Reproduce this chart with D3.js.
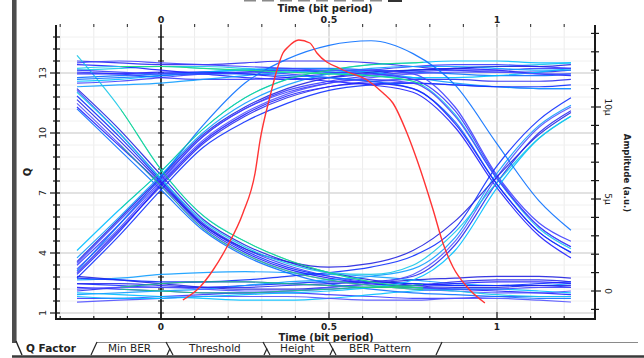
<!DOCTYPE html>
<html>
<head>
<meta charset="utf-8">
<script src="https://cdn.jsdelivr.net/npm/d3@7"></script>
<style>
  body { margin: 0; background: #fff; }
  svg { display: block; }
  text { font-family: "DejaVu Sans", Verdana, sans-serif; fill: #222; }
</style>
</head>
<body>
<svg id="chart" width="644" height="358"></svg>
<script>
// sample instants of every eye trace (bit periods)
const sampleTimes = [-0.25, -0.125, 0, 0.125, 0.25, 0.375, 0.5, 0.625, 0.75, 0.875, 1, 1.125, 1.22];

// amplitudes (micro a.u.), grouped by bit pattern
const highHigh = [
  [12.0, 12.1, 12.2, 12.2, 12.1, 12.0, 11.9, 11.9, 12.0, 12.1, 12.2, 12.3, 12.4],
  [11.6, 11.7, 11.8, 11.9, 12.0, 12.1, 12.1, 12.0, 11.9, 11.8, 11.7, 11.7, 11.8],
  [11.3, 11.4, 11.6, 11.8, 11.9, 11.8, 11.6, 11.4, 11.3, 11.2, 11.1, 11.0, 11.0],
  [12.3, 12.2, 12.0, 11.8, 11.6, 11.5, 11.6, 11.8, 12.0, 12.1, 12.0, 11.8, 11.7],
  [11.9, 11.8, 11.6, 11.5, 11.5, 11.6, 11.8, 12.0, 12.2, 12.3, 12.3, 12.2, 12.1],
  [11.1, 11.2, 11.3, 11.5, 11.7, 11.9, 12.0, 11.9, 11.6, 11.3, 11.1, 11.0, 11.0],
  [12.5, 12.4, 12.3, 12.3, 12.4, 12.5, 12.5, 12.4, 12.2, 12.0, 11.9, 11.9, 12.0],
  [11.4, 11.5, 11.7, 11.9, 12.0, 12.0, 11.9, 11.7, 11.6, 11.6, 11.7, 11.9, 12.1]
];
const lowLow = [
  [0.2, 0.1, 0.0, -0.1, -0.1, 0.0, 0.1, 0.2, 0.2, 0.1, 0.0, -0.1, -0.2],
  [-0.4, -0.4, -0.3, -0.2, -0.1, -0.1, -0.2, -0.3, -0.4, -0.4, -0.3, -0.3, -0.3],
  [0.6, 0.7, 0.9, 1.0, 1.05, 1.0, 0.9, 0.8, 0.6, 0.4, 0.3, 0.3, 0.4],
  [0.0, 0.2, 0.4, 0.5, 0.5, 0.4, 0.3, 0.2, 0.3, 0.5, 0.6, 0.6, 0.5],
  [-0.1, -0.2, -0.3, -0.4, -0.5, -0.5, -0.4, -0.2, 0.0, 0.1, 0.1, 0.0, -0.1],
  [0.4, 0.3, 0.2, 0.2, 0.3, 0.4, 0.5, 0.5, 0.4, 0.3, 0.3, 0.4, 0.5],
  [-0.6, -0.5, -0.4, -0.3, -0.3, -0.3, -0.4, -0.5, -0.5, -0.4, -0.4, -0.5, -0.6],
  [0.8, 0.6, 0.4, 0.2, 0.1, 0.1, 0.2, 0.4, 0.6, 0.7, 0.8, 0.8, 0.7]
];
const fallThenLow = [
  [10.6, 8.4, 6.0, 3.6, 2.2, 1.3, 0.8, 0.5, 0.4, 0.3, 0.3, 0.3, 0.2],
  [10.2, 8.0, 5.7, 3.4, 2.0, 1.1, 0.6, 0.3, 0.1, 0.0, -0.1, -0.1, 0.0],
  [11.0, 8.8, 6.3, 3.9, 2.5, 1.6, 1.0, 0.6, 0.3, 0.2, 0.2, 0.3, 0.3],
  [12.8, 10.0, 6.6, 4.1, 2.7, 1.7, 1.0, 0.5, 0.2, 0.0, -0.2, -0.3, -0.3],
  [9.9, 7.7, 5.5, 3.3, 1.9, 1.0, 0.4, 0.1, -0.1, -0.2, -0.3, -0.4, -0.4],
  [10.9, 8.6, 6.1, 3.7, 2.3, 1.4, 0.8, 0.4, 0.2, 0.1, 0.1, 0.2, 0.2],
  [10.0, 7.9, 5.8, 3.5, 2.1, 1.2, 0.7, 0.4, 0.3, 0.4, 0.5, 0.5, 0.4]
];
const fallThenRise = [
  [10.4, 8.2, 5.9, 3.6, 2.3, 1.6, 1.3, 1.5, 2.2, 3.8, 6.2, 8.5, 9.7],
  [10.8, 8.6, 6.1, 3.8, 2.4, 1.5, 1.0, 0.9, 1.4, 3.2, 5.9, 8.3, 9.5]
];
const riseThenHigh = [
  [1.4, 3.6, 6.0, 8.4, 9.9, 10.9, 11.4, 11.7, 11.9, 12.0, 12.0, 12.1, 12.1],
  [1.8, 4.0, 6.3, 8.6, 10.2, 11.2, 11.8, 12.1, 12.2, 12.2, 12.1, 12.0, 12.0],
  [1.0, 3.3, 5.7, 8.0, 9.5, 10.5, 11.1, 11.4, 11.5, 11.5, 11.4, 11.4, 11.5],
  [2.2, 4.4, 6.5, 8.8, 10.5, 11.5, 12.0, 12.3, 12.4, 12.5, 12.5, 12.4, 12.4],
  [0.7, 3.0, 5.5, 7.8, 9.2, 10.2, 10.9, 11.2, 11.3, 11.2, 11.1, 11.1, 11.2],
  [1.2, 3.4, 5.9, 8.2, 9.7, 10.7, 11.3, 11.6, 11.8, 11.9, 11.9, 11.8, 11.8],
  [1.6, 3.9, 6.2, 8.5, 10.0, 11.0, 11.6, 11.9, 12.0, 12.1, 12.2, 12.2, 12.3]
];
const riseThenFall = [
  [1.1, 3.6, 6.2, 9.0, 11.3, 12.6, 13.35, 13.6, 12.9, 11.2, 8.0, 4.9, 3.3],
  [1.5, 3.8, 6.1, 8.4, 9.9, 10.8, 11.3, 11.5, 11.3, 9.5, 6.1, 3.5, 2.4],
  [0.9, 3.2, 5.8, 8.1, 9.6, 10.6, 11.1, 11.3, 11.0, 9.1, 5.8, 3.2, 2.1]
];
const highThenFall = [
  [12.1, 12.2, 12.2, 12.1, 12.0, 11.9, 11.8, 11.7, 11.4, 9.6, 6.1, 3.4, 2.3],
  [11.5, 11.6, 11.7, 11.8, 11.8, 11.7, 11.6, 11.4, 11.0, 9.2, 5.8, 3.2, 2.1],
  [12.4, 12.5, 12.4, 12.3, 12.2, 12.1, 12.0, 12.0, 11.8, 10.0, 6.3, 3.7, 2.7],
  [11.8, 11.8, 11.9, 11.9, 11.8, 11.6, 11.4, 11.2, 10.8, 8.9, 5.6, 3.0, 1.8],
  [12.0, 11.9, 11.8, 11.8, 11.9, 12.0, 11.9, 11.8, 11.5, 9.8, 6.2, 3.5, 2.4]
];
const lowThenRise = [
  [-0.2, -0.1, 0.0, 0.1, 0.3, 0.5, 0.6, 0.8, 1.2, 2.9, 6.4, 9.0, 10.1],
  [0.4, 0.4, 0.3, 0.2, 0.2, 0.3, 0.4, 0.5, 0.8, 2.5, 5.9, 8.6, 9.8],
  [-0.3, -0.4, -0.4, -0.3, -0.2, -0.1, 0.0, 0.2, 0.6, 2.2, 5.6, 8.3, 9.5],
  [0.7, 0.6, 0.5, 0.5, 0.6, 0.8, 1.0, 1.3, 1.9, 3.4, 6.8, 9.3, 10.5],
  [0.1, 0.2, 0.2, 0.1, 0.0, 0.0, 0.2, 0.4, 0.9, 2.7, 6.2, 8.9, 10.0]
];

// Q factor against decision instant (red curve)
const qTime  = [0.065, 0.116, 0.155, 0.196, 0.244, 0.280, 0.295, 0.324, 0.345, 0.363, 0.378, 0.41, 0.443, 0.464, 0.542, 0.613, 0.661, 0.69, 0.732, 0.762, 0.81, 0.839, 0.869, 0.911, 0.964];
const qValue = [1.65, 2.3, 3.15, 4.3, 6.0, 8.0, 9.65, 11.8, 13.15, 14.0, 14.3, 14.65, 14.5, 14.0, 13.15, 12.65, 12.0, 11.5, 10.0, 8.65, 6.15, 4.5, 3.3, 2.3, 1.5];

// tick labels
const timeTickLabels = [0, 0.5, 1];
const qTickLabels = [1, 4, 7, 10, 13];
const ampTickLabels = [0, 5, 10];
const tabNames = ["Q Factor", "Min BER", "Threshold", "Height", "BER Pattern"];

const svg = d3.select("#chart");
const plot = { left: 56, right: 595, top: 27, bottom: 319 };

const x = d3.scaleLinear().domain([0, 1]).range([161, 497]);
const q = d3.scaleLinear().domain([1, 13]).range([313, 73]);
const amp = d3.scaleLinear().domain([0, 10]).range([291, 107]);

const timeMinor = d3.range(-3, 13).map(i => i / 10);
const qMinor = d3.range(0, 25).map(i => +(1 + i * 0.6).toFixed(1)).filter(v => q(v) >= plot.top - 1);
const ampMinor = d3.range(-1, 15);

// grid
const grid = svg.append("g");
grid.selectAll(".vg").data(timeMinor).enter().append("line")
  .attr("x1", d => x(d)).attr("x2", d => x(d))
  .attr("y1", plot.top).attr("y2", plot.bottom)
  .attr("stroke", d => (d === 0.5 || d === 1) ? "#d6d6d6" : "#ececec")
  .attr("stroke-width", d => (d === 0.5 || d === 1) ? 1.5 : 1);
grid.selectAll(".hg").data(qMinor).enter().append("line")
  .attr("x1", plot.left).attr("x2", plot.right)
  .attr("y1", d => q(d)).attr("y2", d => q(d))
  .attr("stroke", d => qTickLabels.includes(d) ? "#d9d9d9" : "#f0f0f0")
  .attr("stroke-width", d => qTickLabels.includes(d) ? 1.5 : 1);

// axis at t = 0
const zeroAxis = svg.append("g");
zeroAxis.append("line")
  .attr("x1", x(0)).attr("x2", x(0)).attr("y1", plot.top - 2).attr("y2", plot.bottom)
  .attr("stroke", "#111").attr("stroke-width", 1.6);
zeroAxis.selectAll(".zt").data(qMinor).enter().append("line")
  .attr("x1", x(0) - 3).attr("x2", x(0) + 3)
  .attr("y1", d => q(d)).attr("y2", d => q(d))
  .attr("stroke", "#111").attr("stroke-width", 1);

// eye traces
const defs = svg.append("defs");
defs.append("clipPath").attr("id", "clip").append("rect")
  .attr("x", plot.left).attr("y", plot.top)
  .attr("width", plot.right - plot.left).attr("height", plot.bottom - plot.top);
defs.append("clipPath").attr("id", "clipDense").append("rect")
  .attr("x", x(-0.12)).attr("y", plot.top)
  .attr("width", x(0.78) - x(-0.12)).attr("height", plot.bottom - plot.top);

const traces = [].concat(lowLow, highHigh, fallThenLow, riseThenHigh, highThenFall, lowThenRise, fallThenRise, riseThenFall);
const palette = ["#1f1fff", "#3a3aff", "#0f9dff", "#2b2bf0", "#00bfff", "#1030ff", "#5252ff", "#2424e0", "#18c8e8", "#0a70ff", "#4040ff"];

const traceLine = d3.line()
  .x((d, i) => x(sampleTimes[i]))
  .y(d => amp(d))
  .curve(d3.curveMonotoneX);

svg.append("g").attr("clip-path", "url(#clip)")
  .selectAll("path").data(traces).enter().append("path")
  .attr("d", traceLine)
  .attr("fill", "none")
  .attr("stroke", (d, i) => palette[i % palette.length])
  .attr("stroke-width", 1.2)
  .attr("stroke-opacity", 0.9);

// green where traces pile up most
const highlightIdx = [0, 3, 17, 19, 26, 30];
svg.append("g").attr("clip-path", "url(#clipDense)")
  .selectAll("path").data(highlightIdx.map(i => traces[i])).enter().append("path")
  .attr("d", traceLine)
  .attr("fill", "none")
  .attr("stroke", "#1ee06a")
  .attr("stroke-width", 1)
  .attr("stroke-opacity", 0.8);

// Q factor curve
const qLine = d3.line()
  .x((d, i) => x(qTime[i]))
  .y(d => q(d))
  .curve(d3.curveMonotoneX);
svg.append("path").datum(qValue)
  .attr("d", qLine)
  .attr("fill", "none")
  .attr("stroke", "#ff3434")
  .attr("stroke-width", 1.4);

// left (Q) axis
const leftAxis = svg.append("g");
leftAxis.append("line")
  .attr("x1", plot.left).attr("x2", plot.left).attr("y1", plot.top - 2).attr("y2", plot.bottom + 1)
  .attr("stroke", "#1a1a1a").attr("stroke-width", 2);
leftAxis.selectAll(".lt").data(qMinor).enter().append("line")
  .attr("x1", d => qTickLabels.includes(d) ? plot.left - 6 : plot.left - 3)
  .attr("x2", plot.left + 4)
  .attr("y1", d => q(d)).attr("y2", d => q(d))
  .attr("stroke", "#1a1a1a").attr("stroke-width", 1.2);
leftAxis.selectAll(".ll").data(qTickLabels).enter().append("text")
  .attr("transform", d => `translate(46,${q(d)}) rotate(-90)`)
  .attr("text-anchor", "middle")
  .attr("font-size", 9.5)
  .text(d => d);
svg.append("text")
  .attr("transform", "translate(31,172) rotate(-90)")
  .attr("text-anchor", "middle")
  .attr("font-size", 10).attr("font-weight", "bold")
  .text("Q");

// right (amplitude) axis
const rightAxis = svg.append("g");
rightAxis.append("line")
  .attr("x1", plot.right).attr("x2", plot.right).attr("y1", plot.top - 2).attr("y2", plot.bottom + 1)
  .attr("stroke", "#1a1a1a").attr("stroke-width", 2);
rightAxis.selectAll(".rt").data(ampMinor).enter().append("line")
  .attr("x1", plot.right - 4)
  .attr("x2", d => ampTickLabels.includes(d) ? plot.right + 6 : plot.right + 4)
  .attr("y1", d => amp(d)).attr("y2", d => amp(d))
  .attr("stroke", "#1a1a1a").attr("stroke-width", 1.2);
rightAxis.selectAll(".rl").data(ampTickLabels).enter().append("text")
  .attr("transform", d => `translate(605,${amp(d)}) rotate(90)`)
  .attr("text-anchor", "middle")
  .attr("font-size", 9)
  .text(d => d === 0 ? "0" : d + "\u03bc");
svg.append("text")
  .attr("transform", "translate(624,173) rotate(90)")
  .attr("text-anchor", "middle")
  .attr("font-size", 8.5).attr("font-weight", "bold")
  .text("Amplitude (a.u.)");

// bottom time axis
const bottomAxis = svg.append("g");
bottomAxis.append("line")
  .attr("x1", plot.left - 1).attr("x2", plot.right + 1).attr("y1", plot.bottom).attr("y2", plot.bottom)
  .attr("stroke", "#1a1a1a").attr("stroke-width", 2);
bottomAxis.selectAll(".bt").data(timeMinor).enter().append("line")
  .attr("x1", d => x(d)).attr("x2", d => x(d))
  .attr("y1", d => timeTickLabels.includes(d) ? plot.bottom - 7 : plot.bottom - 3)
  .attr("y2", plot.bottom)
  .attr("stroke", "#1a1a1a").attr("stroke-width", 1.2);
bottomAxis.selectAll(".bl").data(timeTickLabels).enter().append("text")
  .attr("x", d => x(d)).attr("y", 330)
  .attr("text-anchor", "middle")
  .attr("font-size", 9).attr("font-weight", "bold")
  .text(d => d);
svg.append("text")
  .attr("x", 326).attr("y", 341)
  .attr("text-anchor", "middle")
  .attr("font-size", 10).attr("font-weight", "bold")
  .text("Time (bit period)");

// top time axis
const topAxis = svg.append("g");
topAxis.selectAll(".tt").data(timeMinor).enter().append("line")
  .attr("x1", d => x(d)).attr("x2", d => x(d))
  .attr("y1", plot.top - 3).attr("y2", plot.top)
  .attr("stroke", "#444").attr("stroke-width", 1.2);
topAxis.selectAll(".tl").data(timeTickLabels).enter().append("text")
  .attr("x", d => x(d)).attr("y", 23)
  .attr("text-anchor", "middle")
  .attr("font-size", 9.5).attr("font-weight", "bold")
  .text(d => d);
svg.append("text")
  .attr("x", 325).attr("y", 12)
  .attr("text-anchor", "middle")
  .attr("font-size", 10).attr("font-weight", "bold")
  .text("Time (bit period)");

// clipped legend strokes above the top title
const topDashX = [244, 262, 280, 298, 316, 334, 352, 370];
svg.append("g").selectAll("rect").data(topDashX).enter().append("rect")
  .attr("x", d => d).attr("y", 0).attr("width", 12).attr("height", 1.5)
  .attr("fill", "#8a8a8a");
svg.append("rect").attr("x", 388).attr("y", 0).attr("width", 14).attr("height", 2).attr("fill", "#333");

// window frame: left bar, tabs, bottom rule
svg.append("rect").attr("x", 12).attr("y", 0).attr("width", 4).attr("height", 343).attr("fill", "#4d4d4d");
svg.append("line").attr("x1", 16.5).attr("x2", 16.5).attr("y1", 0).attr("y2", 342).attr("stroke", "#9a9a9a");
svg.append("line").attr("x1", 12).attr("x2", 644).attr("y1", 356.5).attr("y2", 356.5)
  .attr("stroke", "#3a3a3a").attr("stroke-width", 2.5);

const tabX = [26, 108, 189, 280, 349];
const sepX = [170, 267, 333];
const tabs = svg.append("g");
tabs.append("line").attr("x1", 97).attr("x2", 638).attr("y1", 342.5).attr("y2", 342.5)
  .attr("stroke", "#8a8a8a").attr("stroke-width", 1);
tabs.append("line").attr("x1", 16).attr("y1", 341).attr("x2", 22).attr("y2", 355).attr("stroke", "#222").attr("stroke-width", 1.4);
tabs.append("line").attr("x1", 91).attr("y1", 355).attr("x2", 97).attr("y2", 342).attr("stroke", "#222").attr("stroke-width", 1.2);
tabs.append("line").attr("x1", 436).attr("y1", 355).attr("x2", 442).attr("y2", 342).attr("stroke", "#222").attr("stroke-width", 1.2);
sepX.forEach(s => {
  tabs.append("line").attr("x1", s - 4).attr("y1", 342).attr("x2", s + 3).attr("y2", 355).attr("stroke", "#222").attr("stroke-width", 1.2);
  tabs.append("line").attr("x1", s - 3).attr("y1", 355).attr("x2", s).attr("y2", 348.5).attr("stroke", "#222").attr("stroke-width", 1.2);
});
tabs.selectAll(".tab").data(tabNames).enter().append("text")
  .attr("x", (d, i) => tabX[i]).attr("y", 352)
  .attr("font-size", 10.5)
  .attr("font-weight", (d, i) => i === 0 ? "bold" : "normal")
  .attr("fill", "#2a2a2a")
  .text(d => d);
</script>
</body>
</html>
